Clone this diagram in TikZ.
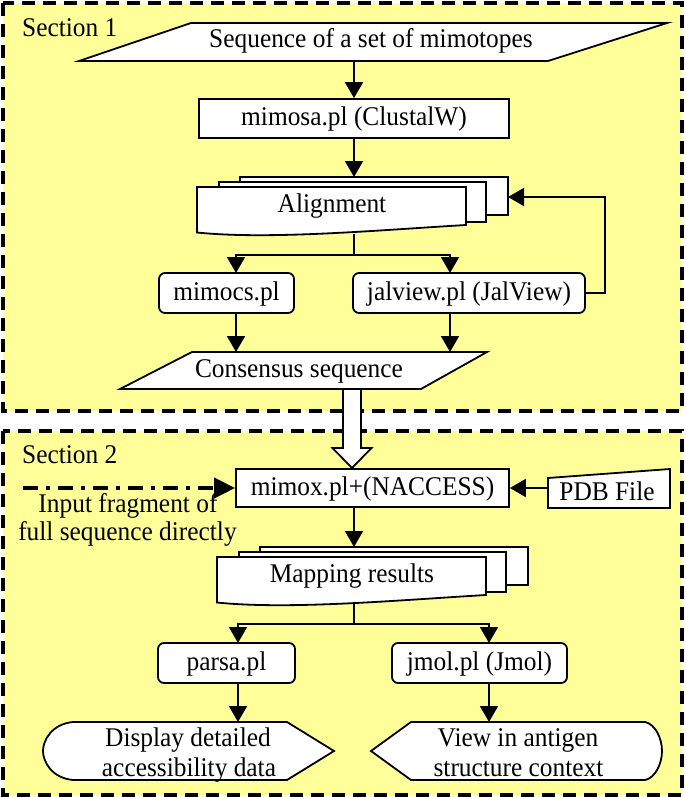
\documentclass[tikz,border=0pt]{standalone}
\usepackage{fontspec}
\setmainfont{Liberation Serif}[FakeStretch=0.94]
\usetikzlibrary{arrows.meta}
\definecolor{secyellow}{RGB}{255,255,153}
\begin{document}
\begin{tikzpicture}[x=1pt,y=-1pt,
  every node/.style={font=\fontsize{27}{31}\selectfont, inner sep=0pt},
  box/.style={draw, line width=1.8pt, fill=white, text height=19pt, text depth=5pt},
  rbox/.style={box, rounded corners=6pt},
  conn/.style={line width=1.8pt, -{Triangle[length=16pt,width=18pt]}},
  plainline/.style={line width=1.8pt},
  shapeline/.style={draw, line width=1.8pt, fill=white, line join=miter},
  section/.style={draw, line width=3.5pt, dash pattern=on 13pt off 8pt, fill=secyellow}]
\useasboundingbox (0,0) rectangle (685,797);
\fill[white] (0,0) rectangle (685,797);
% sections
\path[section] (3,3) rectangle (682,411);
\path[section] (3,431) rectangle (682,795);
\node[anchor=base west] (sec1) at (22,36.5) {Section 1};
\node[anchor=base west] (sec2) at (22,463) {Section 2};
% ---------- Section 1
\path[shapeline] (191,23) -- (667,23) -- (548,61) -- (79,61) -- cycle;
\node[anchor=base] (seq) at (371,47.5) {Sequence of a set of mimotopes};
\coordinate (seqB) at (354,61);
\node[box, minimum width=310pt, minimum height=39pt] (mimosa) at (354,118.5) {mimosa.pl (ClustalW)};
\draw[conn] (seqB) -- (mimosa.north);
% multi-document: Alignment
\path[shapeline] (240,177) rectangle (508,215);
\path[shapeline] (219,182) rectangle (486,222);
\path[shapeline] (197,187) -- (466,187) -- (466,225) .. controls (380,230) and (270,240) .. (197,232.5) -- cycle;
\node[anchor=base] (align) at (332,212.5) {Alignment};
\coordinate (alignT) at (354,177);
\coordinate (alignB) at (354,233.5);
\coordinate (alignR) at (508,197);
\draw[conn] (mimosa.south) -- (alignT);
\coordinate (split1) at (354,255);
\draw[plainline] (alignB) -- (split1);
\node[rbox, minimum width=135pt, minimum height=40pt] (mimocs) at (226.5,293) {mimocs.pl};
\node[rbox, minimum width=232pt, minimum height=40pt] (jal) at (469,293) {jalview.pl (JalView)};
\coordinate (mimocsIn) at (236,273);
\coordinate (jalIn) at (450,273);
\draw[conn] (split1) -| (mimocsIn);
\draw[conn] (split1) -| (jalIn);
\coordinate (fbk) at (605,293);
\draw[conn] (jal.east) -- (fbk) |- (alignR);
% consensus
\path[shapeline] (192,352) -- (487,352) -- (421,389) -- (120,389) -- cycle;
\node[anchor=base] (cons) at (299,377.5) {Consensus sequence};
\coordinate (consL) at (236,352);
\coordinate (consR) at (450,352);
\draw[conn] (mimocs.south -| consL) -- (consL);
\draw[conn] (jal.south -| consR) -- (consR);
% ---------- Section 2
\node[box, minimum width=273pt, minimum height=38pt] (mimox) at (372.5,488) {mimox.pl+(NACCESS)};
% hollow arrow
\path[draw, line width=1.8pt, fill=white, line join=miter] (343,389) -- (361,389) -- (361,448) -- (371.5,448) -- (352,468) -- (332.5,448) -- (343,448) -- cycle;
% PDB manual input
\path[shapeline] (548,478) -- (670,469) -- (670,508) -- (548,508) -- cycle;
\node[anchor=base] (pdb) at (607,500) {PDB File};
\coordinate (pdbL) at (548,488);
\draw[conn] (pdbL) -- (mimox.east);
% direct input
\node[anchor=base] (inp1) at (128,512) {Input fragment of};
\node[anchor=base] (inp2) at (127.5,540) {full sequence directly};
\coordinate (inStart) at (23,488);
\draw[line width=4pt, dash pattern=on 15pt off 8pt on 4pt off 8pt, -{Triangle[length=21pt,width=20pt]}] (inStart) -- (mimox.west);
% multi-document: Mapping results
\begin{scope}[shift={(20,370)}]
\path[shapeline] (240,177) rectangle (508,215);
\path[shapeline] (219,182) rectangle (486,222);
\path[shapeline] (197,187) -- (466,187) -- (466,225) .. controls (380,230) and (270,240) .. (197,232.5) -- cycle;
\node[anchor=base] (map) at (332,212.5) {Mapping results};
\coordinate (mapT) at (334,177);
\coordinate (mapB) at (334,233.5);
\end{scope}
\draw[conn] (mimox.south -| mapT) -- (mapT);
\coordinate (split2) at (354,624);
\draw[plainline] (mapB) -- (split2);
\node[rbox, minimum width=137pt, minimum height=40pt] (parsa) at (226.5,663) {parsa.pl};
\node[rbox, minimum width=175pt, minimum height=40pt] (jmol) at (479.5,663) {jmol.pl (Jmol)};
\coordinate (parsaIn) at (238,643);
\coordinate (jmolIn) at (489,643);
\draw[conn] (split2) -| (parsaIn);
\draw[conn] (split2) -| (jmolIn);
% display shapes
\path[shapeline] (73,722) -- (287,722) -- (334,751) -- (287,780) -- (73,780) .. controls (52,778) and (43,762) .. (43,751) .. controls (43,740) and (52,724) .. (73,722) -- cycle;
\node[anchor=base] (disp1) at (188,746.5) {Display detailed};
\node[anchor=base] (disp2) at (189,776.5) {accessibility data};
\path[shapeline] (371,751) -- (411,722) -- (645,722) .. controls (655,724) and (662,738) .. (662,751) .. controls (662,764) and (655,778) .. (645,780) -- (411,780) -- cycle;
\node[anchor=base] (view1) at (518,746.5) {View in antigen};
\node[anchor=base] (view2) at (518.5,776.5) {structure context};
\coordinate (dispT) at (238,722);
\coordinate (viewT) at (489,722);
\draw[conn] (parsa.south -| dispT) -- (dispT);
\draw[conn] (jmol.south -| viewT) -- (viewT);
\end{tikzpicture}
\end{document}
